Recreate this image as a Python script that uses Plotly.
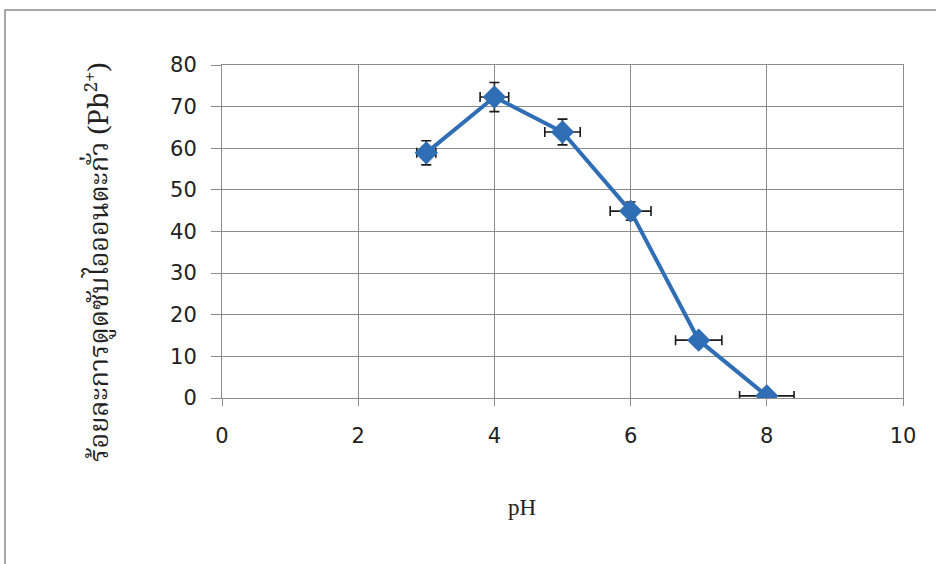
import plotly.graph_objects as go

ph = [3, 4, 5, 6, 7, 8]
adsorption = [58.9, 72.3, 63.9, 44.9, 13.9, 0.5]
err_y = [2.9, 3.5, 3.1, 2.2, 1.0, 0.0]
err_x = [0.14, 0.21, 0.26, 0.30, 0.34, 0.40]
x_ticks = [0, 2, 4, 6, 8, 10]
y_ticks = [0, 10, 20, 30, 40, 50, 60, 70, 80]

y_title = "ร้อยละการดูดซับไอออนตะกั่ว (Pb<sup>2+</sup>)"
x_title = "pH"

blue = "#2F6DB5"
grid = "#8c8c8c"

fig = go.Figure()
fig.add_trace(go.Scatter(
    x=ph, y=adsorption, mode="lines+markers",
    line=dict(color=blue, width=4),
    marker=dict(symbol="diamond", size=18, color=blue),
    error_y=dict(type="data", array=err_y, color="#1a1a1a", thickness=1.6, width=5),
    error_x=dict(type="data", array=err_x, color="#1a1a1a", thickness=1.6, width=5),
    showlegend=False,
))

W, H = 936, 564
L, R, T, B = 222, 33, 65, 166
pw, ph_ = W - L - R, H - T - B

def px(xp):
    return (xp - L) / pw

def py(yp):
    return (H - B - yp) / ph_

fig.update_layout(
    width=W, height=H,
    margin=dict(l=L, r=R, t=T, b=B),
    paper_bgcolor="white", plot_bgcolor="white",
    font=dict(family="DejaVu Sans, Verdana, sans-serif", size=21, color="#222"),
    xaxis=dict(range=[0, 10], tickvals=x_ticks, showgrid=True, gridcolor=grid, gridwidth=1,
               showline=True, linecolor=grid, linewidth=1, mirror=True,
               ticks="outside", ticklen=7, tickcolor=grid, zeroline=False,
               ticklabelstandoff=12, tickfont=dict(size=21)),
    yaxis=dict(range=[0, 80], tickvals=y_ticks, showgrid=True, gridcolor=grid, gridwidth=1,
               showline=True, linecolor=grid, linewidth=1, mirror=True,
               ticks="outside", ticklen=10, tickcolor=grid, zeroline=False,
               ticklabelstandoff=10, tickfont=dict(size=21)),
    annotations=[
        dict(text=x_title, xref="paper", yref="paper", x=px(522), y=py(508),
             xanchor="center", yanchor="middle",
             showarrow=False, font=dict(family="Liberation Serif, Times New Roman, serif", size=23, color="#222")),
        dict(text=y_title, xref="paper", yref="paper", x=px(99), y=py(262),
             xanchor="center", yanchor="middle",
             textangle=-90, showarrow=False,
             font=dict(family="Noto Serif Thai, Noto Sans Thai, Liberation Serif, serif", size=27, color="#222")),
    ],
    shapes=[
        dict(type="rect", xref="paper", yref="paper",
             x0=px(5), x1=px(945), y0=py(580), y1=py(10),
             line=dict(color="#8a8a8a", width=1.5), layer="below"),
    ],
)

fig.write_html("out.html")
